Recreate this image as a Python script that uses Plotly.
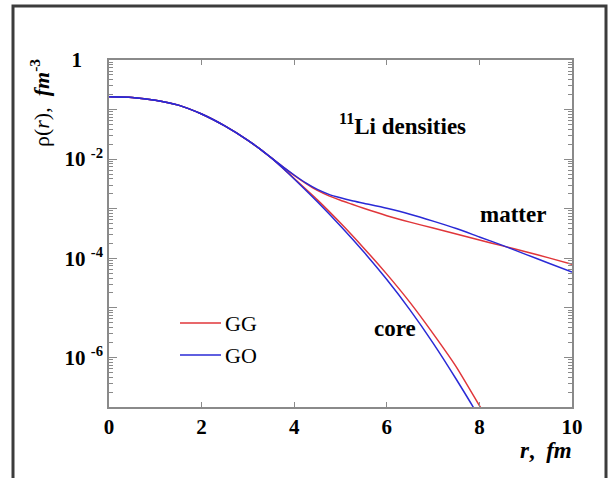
import plotly.graph_objects as go

# ---- data ----
r_common = [0.0, 0.5, 1.0, 1.5, 2.0, 2.5, 3.0, 3.25, 3.5]
rho_common = [0.182, 0.176, 0.155, 0.123, 0.0813, 0.0468, 0.0240, 0.0163, 0.0107]

r_matter = [3.75, 4.0, 4.25, 4.5, 4.75, 5.0, 5.25, 5.5, 6.0, 6.5, 7.0, 7.5, 8.0, 8.5, 9.0, 9.5, 10.0]
matter_GG = [7.08e-3, 4.68e-3, 3.24e-3, 2.34e-3, 1.82e-3, 1.48e-3, 1.23e-3, 1.02e-3, 7.24e-4, 5.37e-4,
             4.07e-4, 3.09e-4, 2.34e-4, 1.78e-4, 1.35e-4, 1.02e-4, 7.59e-5]
matter_GO = [7.08e-3, 4.79e-3, 3.31e-3, 2.45e-3, 1.95e-3, 1.66e-3, 1.45e-3, 1.29e-3, 1.02e-3, 7.76e-4,
             5.62e-4, 3.98e-4, 2.69e-4, 1.82e-4, 1.20e-4, 7.94e-5, 5.25e-5]

r_core = [3.75, 4.0, 4.5, 5.0, 5.5, 6.0, 6.5, 7.0, 7.5, 8.0, 8.25]
core_GG = [6.65e-3, 4.07e-3, 1.51e-3, 5.13e-4, 1.62e-4, 4.79e-5, 1.29e-5, 3.02e-6, 6.46e-7, 1.07e-7, 4.47e-8]
core_GO = [6.61e-3, 3.98e-3, 1.38e-3, 4.47e-4, 1.35e-4, 3.72e-5, 9.12e-6, 1.95e-6, 3.63e-7, 6.03e-8, 2.0e-8]

x_ticks = [0, 2, 4, 6, 8, 10]
y_tickvals = [1, 1e-1, 1e-2, 1e-3, 1e-4, 1e-5, 1e-6, 1e-7]
NB = "\u00a0"
y_ticktext = ["1" + NB * 4, "", "10" + NB + "<sup>-2</sup>", "", "10" + NB + "<sup>-4</sup>", "",
              "10" + NB + "<sup>-6</sup>", ""]

RED = "#e0363a"
BLUE = "#2a2ad6"
FONT = "Times New Roman, Liberation Serif, serif"

fig = go.Figure()

def add(x, y, color):
    fig.add_trace(go.Scatter(x=x, y=y, mode="lines",
                             line=dict(color=color, width=1.5, shape="spline", smoothing=0.6),
                             showlegend=False, hoverinfo="skip"))

add(r_common + r_matter, rho_common + matter_GG, RED)
add(r_common + r_core, rho_common + core_GG, RED)
add(r_common + r_matter, rho_common + matter_GO, BLUE)
add(r_common + r_core, rho_common + core_GO, BLUE)

W, H = 610, 478
L, R, T, B = 109, 572, 60, 407
pw, ph = R - L, B - T

def px(xp):
    return (xp - L) / pw

def py(yp):
    return (B - yp) / ph

axis_col = "#8a8a8a"
tfont = dict(family=FONT, size=21, color="black")
fig.update_layout(
    width=W, height=H,
    margin=dict(l=L, r=W - R, t=T, b=H - B),
    paper_bgcolor="white", plot_bgcolor="white",
    font=dict(family=FONT, size=20, color="black"),
    xaxis=dict(range=[0, 10], tickvals=x_ticks, ticktext=[f"<b>{v}</b>" for v in x_ticks],
               ticks="inside", ticklen=5, tickwidth=1, tickcolor=axis_col,
               showline=True, linecolor=axis_col, linewidth=1.5, mirror="ticks",
               showgrid=False, zeroline=False, tickfont=tfont),
    yaxis=dict(type="log", range=[-7, 0], tickvals=y_tickvals,
               ticktext=[f"<b>{t}</b>" if t else "" for t in y_ticktext],
               ticks="inside", ticklen=8, tickwidth=1, tickcolor=axis_col,
               minor=dict(ticks="inside", ticklen=4, tickcolor=axis_col, dtick="D1", showgrid=False),
               showline=True, linecolor=axis_col, linewidth=1.5, mirror="ticks",
               showgrid=False, zeroline=False, tickfont=tfont),
)

shapes = [
    dict(type="rect", xref="paper", yref="paper", x0=px(13), x1=px(606), y0=py(490), y1=py(6),
         line=dict(color="#3c3c3c", width=3), fillcolor="rgba(0,0,0,0)", layer="above"),
    dict(type="line", xref="paper", yref="paper", x0=px(180), x1=px(221), y0=py(323), y1=py(323),
         line=dict(color=RED, width=1.5)),
    dict(type="line", xref="paper", yref="paper", x0=px(180), x1=px(221), y0=py(355), y1=py(355),
         line=dict(color=BLUE, width=1.5)),
]
fig.update_layout(shapes=shapes)

ann = [
    dict(text="GG", x=px(223), y=py(323), xanchor="left", yanchor="middle", font=dict(size=22)),
    dict(text="GO", x=px(223), y=py(355), xanchor="left", yanchor="middle", font=dict(size=22)),
    dict(text="<b>matter</b>", x=px(513), y=py(215), xanchor="center", yanchor="middle", font=dict(size=23)),
    dict(text="<b>core</b>", x=px(395), y=py(328), xanchor="center", yanchor="middle", font=dict(size=23)),
    dict(text="<b><sup>11</sup>Li densities</b>", x=px(402), y=py(124), xanchor="center", yanchor="middle",
         font=dict(size=23)),
    dict(text="<b><i>r</i>," + NB + NB + "<i>fm</i></b>", x=px(574), y=py(450), xanchor="right",
         yanchor="middle", font=dict(size=23)),
    dict(text="ρ(<i>r</i>)," + NB + NB + "<b><i>fm</i><sup>-3</sup></b>", x=px(40), y=py(103), xanchor="center",
         yanchor="middle", textangle=-90, font=dict(size=22)),
]
for a in ann:
    a.update(xref="paper", yref="paper", showarrow=False)
fig.update_layout(annotations=ann)

fig.write_html("out.html")
